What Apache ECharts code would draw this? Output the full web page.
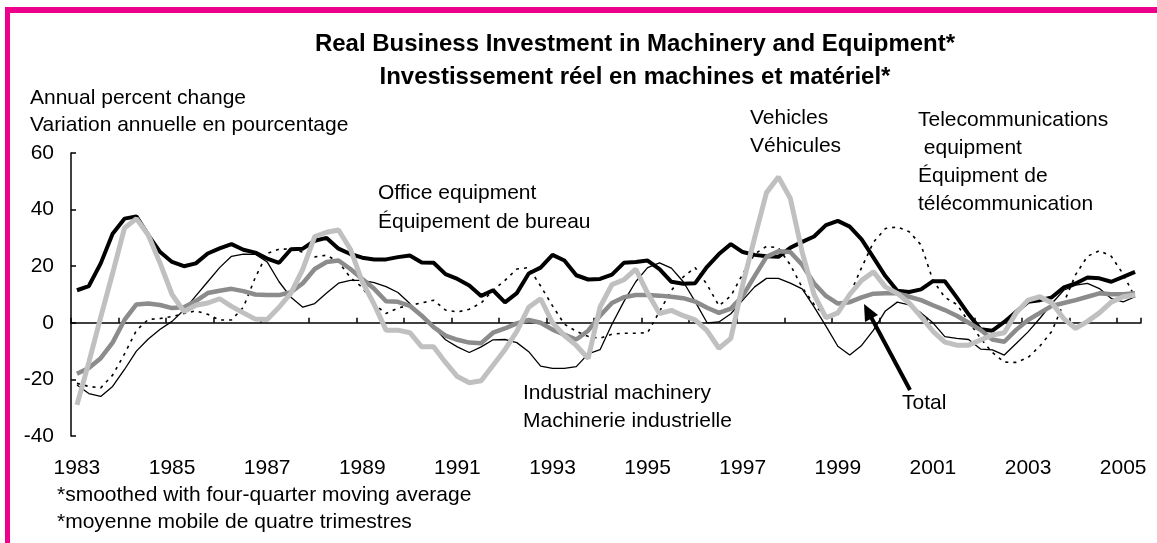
<!DOCTYPE html>
<html>
<head>
<meta charset="utf-8">
<title>Real Business Investment in Machinery and Equipment</title>
<script src="https://cdn.jsdelivr.net/npm/echarts@6/dist/echarts.min.js"></script>
<style>
  html, body { margin: 0; padding: 0; background: #fff; }
  #chart { width: 1157px; height: 543px; }
</style>
</head>
<body>
<div id="chart"></div>
<script>
// 季度类目 1983Q1 - 2005Q2
const quarters = []
for (let y = 1983; y <= 2005; y++) {
  for (let q = 1; q <= 4; q++) {
    if (y === 2005 && q > 2) break
    quarters.push(y + 'Q' + q)
  }
}

// y 轴刻度
const yTicks = [-40, -20, 0, 20, 40, 60]

// 各系列数据（年变化百分比，四季度移动平均）
const office = [
  11.5, 13, 21, 31.5, 36.8, 37.6, 31, 25, 21.5, 20,
  21, 24.5, 26.3, 27.8, 25.8, 24.8, 22.7, 21.2, 26, 26.2,
  29, 30, 26.2, 24.3, 23, 22.4, 22.4, 23.2, 23.8, 21.3,
  21.2, 17.2, 15.5, 13.2, 9.5, 11.5, 7.2, 10.5, 17.4, 19.5,
  24, 22, 16.8, 15.3, 15.5, 17, 21.2, 21.5, 22, 19,
  14.5, 13.8, 14, 19.8, 24.3, 27.8, 25, 24, 23.5, 23.3,
  26.5, 28.6, 30.5, 34.5, 36, 34, 29.5, 23, 16.5, 11.3,
  10.9, 11.8, 14.7, 14.7, 9, 3, -2.3, -2.8, 0.3, 3.9,
  7.4, 8, 9, 12.5, 13.9, 16, 15.7, 14.5, 16.2, 18
]
const vehicles = [
  -29, -14, 2, 17.5, 33.5, 36.8, 31, 21, 10, 4,
  6.2, 7, 8.5, 5.8, 3.5, 1.3, 1.2, 5.5, 10.5, 19,
  30.5, 32, 32.8, 26, 14.5, 6.5, -2.6, -2.6, -3.5, -8.5,
  -8.5, -14, -19, -21.2, -20.5, -15, -9.5, -3, 5.5, 8.5,
  0, -4.5, -8, -12.6, 5.6, 13.5, 15.2, 19, 10.5, 3.3,
  4.4, 2.5, 1, -2.8, -9, -5.5, 13.5, 30, 46, 51.5,
  44, 25, 10, 1.8, 3.5, 10, 15, 18, 12.7, 10.4,
  7, 2.2, -3, -6.8, -7.9, -7.9, -6.1, -4.3, -3.5, 3.5,
  8, 9.2, 7, 1.5, -2, 0.5, 3.5, 7.3, 9.2, 9.8
]
const telecom = [
  -21.4, -22.5, -23, -18.5, -11, -2.7, 1.2, 1.5, 2.2, 3.3,
  4.2, 3, 1, 1, 5.5, 16, 24.5, 26, 26.1, 25,
  23.3, 23.9, 21.5, 16, 12.5, 6.5, 3.3, 5.2, 6.2, 7,
  8, 4.5, 3.8, 4.8, 7, 11.5, 15, 19, 19.5, 13,
  6, -0.5, -3, -4.8, -5.5, -4, -3.7, -3.7, -3.5, 4,
  11.5, 16.2, 19.5, 13.5, 6, 9.5, 17.2, 24.3, 27, 26.5,
  20.5, 12.5, 6.5, 2, 4, 10, 19.5, 28.5, 33.3, 33.9,
  32.2, 27.5, 15, 9, 6.5, 0.5, -5.5, -10.5, -13.9, -14,
  -12.3, -8.2, -3, 7, 17, 23.5, 25.5, 23.5, 17.2, 9
]
const industrial = [
  -22, -25, -26, -22.5, -16.5, -10, -5.7, -2.3, 0.5, 4.5,
  9.5, 14.5, 19.5, 23.5, 24.3, 24.2, 21.5, 14.5, 9, 5.5,
  6.8, 10.5, 14, 15, 15, 14.2, 12.8, 10.7, 6.8, 2,
  -1.5, -6, -8.5, -10.5, -8.5, -6, -5.9, -7, -10.2, -15.3,
  -16.1, -16.1, -15.5, -11, -9.5, -0.5, 7.5, 14.5, 19.5, 21.2,
  19.3, 14.5, 7.5, 0, 0.3, 3.2, 8, 12.7, 15.7, 15.7,
  14, 12, 5.6, -1.2, -8.3, -11.4, -8, -2.6, 4.2, 7.3,
  6.3, 3.5, 0, -4.9, -5.5, -5.9, -9.3, -9.6, -11.4, -7.3,
  -3.2, 1.6, 6.8, 11.5, 13.3, 13.9, 12.1, 8.6, 7.4, 9.2
]
const total = [
  -18, -16, -12.5, -7, 1, 6.5, 6.8, 6.3, 5.2, 5.5,
  7.7, 10.5, 11.3, 12, 11.2, 10, 9.8, 9.8, 10.8, 14,
  19, 21.5, 22, 19, 15.5, 12, 7.6, 7.4, 6, 2.5,
  -1.5, -4.5, -6, -7, -7.2, -3.5, -2, -0.2, 1, 0,
  -2.4, -4.2, -5.9, -2.8, 2.5, 7, 9, 9.8, 9.8, 9.6,
  9.2, 8.7, 7.5, 5.3, 3.5, 5, 9.5, 16.5, 23.3, 25.3,
  25, 20.5, 14, 9.5, 6.8, 7.3, 9, 10.3, 10.4, 10.4,
  9.2, 8, 6.2, 4.5, 2.5, 0, -2.5, -5.9, -6.7, -2.5,
  1, 3.5, 6, 7, 8, 9.2, 10.4, 10.1, 10.1, 10.4
]

const FONT = '"Liberation Sans", Arial, sans-serif'

// 图上的文字注释
function note(text, x, y, lh) {
  return {
    type: 'text',
    x: x,
    y: y,
    style: {
      text: text,
      fontFamily: FONT,
      fontSize: 21,
      lineHeight: lh || 28,
      fill: '#000',
      textVerticalAlign: 'top'
    }
  }
}

function lineSeries(name, data, color, width, type, z) {
  return {
    name: name,
    type: 'line',
    data: data,
    symbol: 'none',
    smooth: false,
    z: z,
    lineStyle: { color: color, width: width, type: type || 'solid' }
  }
}

let option = {
  animation: false,
  backgroundColor: '#fff',
  title: {
    text: 'Real Business Investment in Machinery and Equipment*\nInvestissement réel en machines et matériel*',
    left: 630,
    textAlign: 'center',
    top: 23,
    textStyle: {
      fontFamily: FONT,
      fontSize: 24,
      fontWeight: 'bold',
      lineHeight: 33,
      color: '#000'
    }
  },
  grid: {
    left: 71,
    right: 16,
    top: 153,
    bottom: 107,
    outerBoundsMode: 'none'
  },
  xAxis: [{
    // 零线上的轴线和刻度
    type: 'category',
    data: quarters,
    boundaryGap: true,
    axisLine: { onZero: true, lineStyle: { color: '#000', width: 1.5 } },
    axisTick: { show: true, inside: true, length: 5, interval: 3, lineStyle: { color: '#000', width: 1.5 } },
    axisLabel: { show: false },
    splitLine: { show: false }
  }, {
    // 底部的年份标签
    type: 'category',
    data: quarters,
    position: 'bottom',
    boundaryGap: true,
    axisLine: { show: false, onZero: false },
    axisTick: { show: false },
    axisLabel: {
      interval: 7,
      margin: 22,
      fontFamily: FONT,
      fontSize: 21,
      color: '#000',
      formatter: (v) => v.slice(0, 4)
    },
    splitLine: { show: false }
  }],
  yAxis: {
    type: 'value',
    min: yTicks[0],
    max: yTicks[yTicks.length - 1],
    interval: 20,
    axisLine: { show: true, lineStyle: { color: '#000', width: 1.5 } },
    axisTick: { show: true, inside: true, length: 5, lineStyle: { color: '#000', width: 1.5 } },
    axisLabel: { margin: 17, fontFamily: FONT, fontSize: 21, color: '#000' },
    splitLine: { show: false }
  },
  series: [
    lineSeries('Industrial machinery', industrial, '#000', 1.3, 'solid', 2),
    lineSeries('Telecommunications equipment', telecom, '#000', 1.6, [3, 5], 3),
    lineSeries('Office equipment', office, '#000', 4, 'solid', 4),
    lineSeries('Total', total, '#8c8c8c', 4.5, 'solid', 5),
    lineSeries('Vehicles', vehicles, '#c0c0c0', 5, 'solid', 6)
  ],
  graphic: [
    // 粉色边框（上、左）
    { type: 'rect', shape: { x: 5, y: 7, width: 1152, height: 6 }, style: { fill: '#ec008c' } },
    { type: 'rect', shape: { x: 5, y: 7, width: 5, height: 536 }, style: { fill: '#ec008c' } },
    note('Annual percent change\nVariation annuelle en pourcentage', 30, 85, 27),
    note('Office equipment\nÉquipement de bureau', 378, 179, 29),
    note('Vehicles\nVéhicules', 750, 104),
    note('Telecommunications\n equipment\nÉquipment de\ntélécommunication', 918, 106, 28),
    note('Industrial machinery\nMachinerie industrielle', 523, 379),
    note('Total', 902, 389),
    note('*smoothed with four-quarter moving average\n*moyenne mobile de quatre trimestres', 57, 482, 27),
    // 指向 Total 的箭头
    { type: 'line', shape: { x1: 910, y1: 390, x2: 871, y2: 317 }, style: { stroke: '#000', lineWidth: 4 } },
    { type: 'polygon', shape: { points: [[864, 304], [878, 315], [865, 322]] }, style: { fill: '#000' } }
  ]
}

const chart = echarts.init(document.getElementById('chart'), null, { renderer: 'canvas' })
chart.setOption(option)
</script>
</body>
</html>
